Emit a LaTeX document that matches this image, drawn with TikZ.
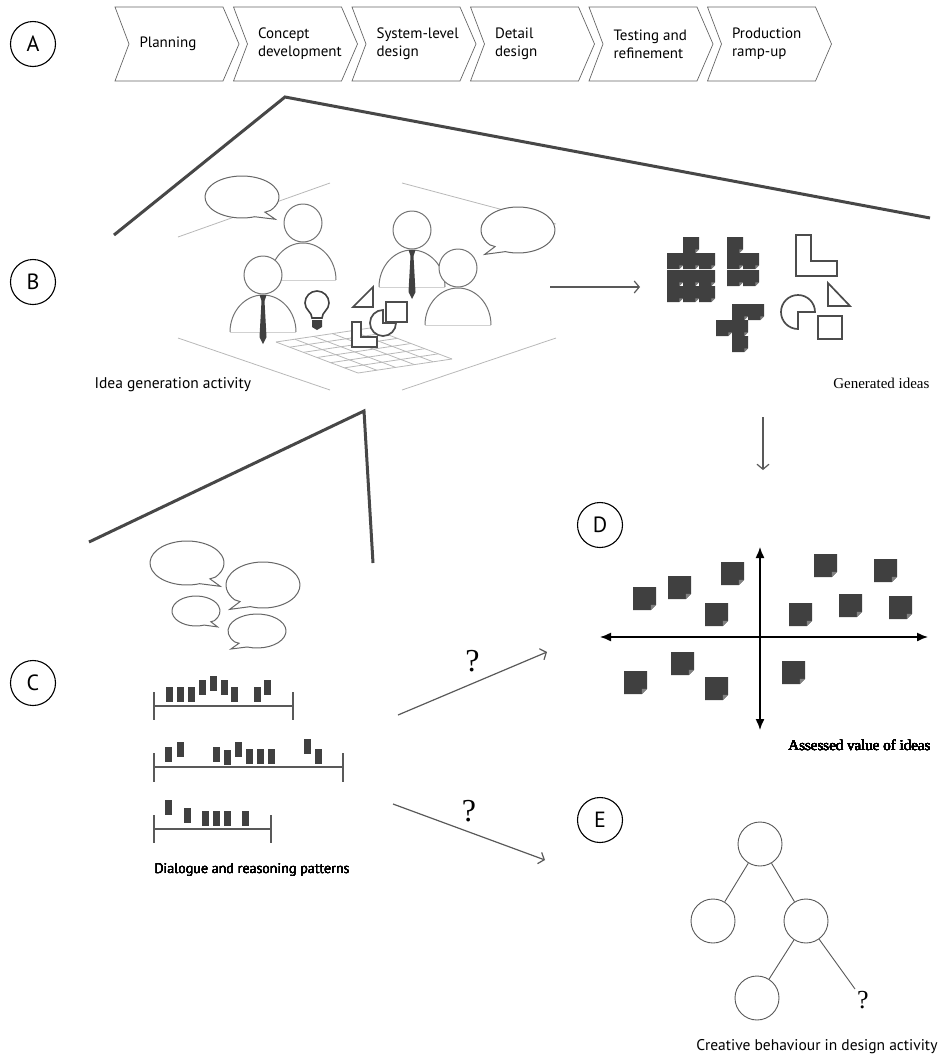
\documentclass[tikz,border=0pt]{standalone}
\usepackage{fontspec}
\setsansfont{PT Sans}
\newfontfamily\garafont{Liberation Serif}
\usetikzlibrary{arrows.meta}

\definecolor{ink}{gray}{0.25}

\tikzset{
  tag/.style={circle, draw, line width=1.1pt, minimum size=45pt, inner sep=0pt,
    font=\sffamily\fontsize{22}{22}\selectfont},
  chev/.style={draw=black!60, line width=.7pt},
  stagetxt/.style={anchor=west, align=left, font=\sffamily\fontsize{15}{18}\selectfont},
  brace/.style={draw=black!72, line width=3pt},
  floor/.style={draw=black!28, line width=.8pt},
  fig/.style={draw=black!55, line width=1pt, fill=white},
  talk/.style={draw=black!60, line width=1pt, fill=white},
  outline/.style={draw=black!70, line width=1.7pt, fill=white, line join=miter},
  flow/.style={->, draw=black!65, line width=1.2pt},
  axis/.style={{Latex[length=11pt,width=9pt]}-{Latex[length=11pt,width=9pt]}, line width=1.4pt},
  sans/.style={font=\sffamily\fontsize{15.5}{17}\selectfont},
  serif/.style={font=\garafont\fontsize{15}{17}\selectfont},
  qmark/.style={font=\garafont\fontsize{32}{32}\selectfont, inner sep=1pt},
  leaf/.style={circle, draw=black!65, line width=.9pt, minimum size=44pt, inner sep=0pt},
  timeline/.style={draw=black!65, line width=1.3pt}
}

% head and shoulders of one member of the team
\newcommand\person[2]{%
  \filldraw[fig] (#1-33,#2+57) arc[start angle=180,end angle=360,x radius=33,y radius=37];
  \draw[black!18] (#1-33,#2+57) -- (#1+33,#2+57);
  \filldraw[fig] (#1,#2) circle[radius=19];}
\newcommand\necktie[2]{%
  \fill[ink] (#1-3.5,#2) -- (#1+3.5,#2) -- (#1+1.5,#2+6) -- (#1+3.5,#2+42) -- (#1,#2+49)
    -- (#1-3.5,#2+42) -- (#1-1.5,#2+6) -- cycle;}
% speech bubble: centre, radii, side of the tail (1 right, -1 left)
\newcommand\bubble[5]{%
  \filldraw[talk] ({#1+#3*cos(90-(#5)*20)},{#2+#4*sin(90-(#5)*20)})
    arc[start angle={90-(#5)*20}, end angle={90+(#5)*310}, x radius=#3, y radius=#4]
    -- ({#1+(#5)*0.62*#3},{#2+0.72*#4}) -- ({#1+(#5)*0.9*#3},{#2+1.06*#4}) -- cycle;}
% sticky note with a folded corner
\newcommand\idea[3]{%
  \fill[ink] (#1,#2) -- ++(#3,0) -- ++(0,#3*0.78) -- ++(-#3*0.22,#3*0.22) -- ++(-#3*0.78,0) -- cycle;
  \fill[black!50] (#1+#3,#2+#3*0.78) -- ++(-#3*0.22,#3*0.22) -- ++(0,-#3*0.22) -- cycle;}
% one utterance on a timeline
\newcommand\utt[2]{\fill[ink] (#1-3.5,#2) rectangle (#1+3.5,#2+15);}

\begin{document}
\begin{tikzpicture}[x=1pt, y=-1pt, >={Straight Barb[length=5pt,width=12pt]}]
\useasboundingbox (0,0) rectangle (943,1058);

% A: product development stages
\node[tag] (A) at (33,44) {A};
\foreach \t [count=\i from 0] in {Planning,Concept\\development,System-level\\design,Detail\\design,Testing and\\refinement,Production\\ramp-up}{
  \draw[chev] ({115+118.5*\i},7) -- ++(108,0) -- ++(16,37) -- ++(-16,37) -- ++(-108,0) -- ++(14,-37) -- cycle;
  \node[stagetxt] (s\i) at ({136+118.5*\i},44) {\t};
}
\draw[brace] (114,235) -- (285,97) -- (930,218);

% B: the idea generation session
\node[tag] (B) at (33,282) {B};
\draw[floor] (178,237) -- (330,183);
\draw[floor] (402,183) -- (556,224);
\draw[floor] (178,338) -- (330,390);
\draw[floor] (402,390) -- (556,338);
\bubble{242}{197}{37}{21}{1}
\bubble{518}{230}{37}{23}{-1}
\person{303}{223}
\person{412}{230}
\necktie{412}{250}
\person{263}{275}
\necktie{263}{295}
\person{458}{268}
% table top
\foreach \i in {0,...,5} \draw[floor] ({276+\i*18.8},{342-\i*2.8}) -- ++(82,31);
\foreach \j in {0,...,6} \draw[floor] ({276+\j*82/6},{342+\j*31/6}) -- ++(94,-14);
% light bulb
\draw[draw=black!75, line width=1.6pt, fill=white] (312,318) .. controls (312,312) and (305,310) .. (305,303)
  arc[start angle=180, end angle=360, radius=12] .. controls (329,310) and (322,312) .. (322,318) -- cycle;
\fill[ink] (312,320) -- (322,320) -- (322,327) -- (317,330) -- (312,327) -- cycle;
% shapes on the table
\filldraw[outline] (373,287) -- (373,307) -- (353,307) -- cycle;
\filldraw[outline] (383,323) -- (396,323) arc[start angle=0, end angle=270, radius=13] -- cycle;
\filldraw[outline] (386,302) rectangle (407,322);
\filldraw[outline] (352,322) -- (361,322) -- (361,337) -- (377,337) -- (377,347) -- (352,347) -- cycle;
\node[sans, anchor=west] (act) at (91,385) {Idea generation activity};

\coordinate (session) at (550,287);
\coordinate (pile) at (640,287);
\draw[flow] (session) -- (pile);

% generated ideas
\foreach \x/\y in {683/237, 667/253,683/253,699/253, 667/270,683/270,699/270, 667/286,683/286,699/286,
  727/237, 727/253,743/253, 727/270,743/270, 732/304,748/304, 716/320,732/320, 732/336}
  \idea{\x}{\y}{16}
\filldraw[outline] (796,235) -- (811,235) -- (811,261) -- (837,261) -- (837,276) -- (796,276) -- cycle;
\filldraw[outline] (828,283) -- (828,306) -- (850,306) -- cycle;
\filldraw[outline] (798,312) -- (798,329) arc[start angle=90, end angle=360, radius=17] -- cycle;
\filldraw[outline] (818,316) rectangle (842,339);
\node[serif, anchor=east] (gen) at (933,383) {Generated ideas};

\coordinate (assess) at (763,417);
\coordinate (plot) at (763,470);
\draw[flow] (assess) -- (plot);

% D: assessed value
\node[tag] (D) at (600,525) {D};
\coordinate (xl) at (600,637);
\coordinate (xr) at (928,637);
\coordinate (yt) at (760,547);
\coordinate (yb) at (760,730);
\draw[axis] (xl) -- (xr);
\draw[axis] (yt) -- (yb);
\foreach \x/\y in {633/587, 668/576, 721/562, 705/603, 814/554, 874/559, 789/603, 839/594, 889/596,
  624/671, 671/652, 705/677, 782/661}
  \idea{\x}{\y}{23}
\node[serif, anchor=east] (val) at (934,745) {Assessed value of ideas};

% C: dialogue
\node[tag] (C) at (33,683) {C};
\draw[brace] (89,542) -- (364,411) -- (373,563);
\bubble{187}{563}{37}{22}{1}
\bubble{263}{585}{37}{23}{-1}
\bubble{196}{611}{24}{15}{1}
\bubble{257}{631}{29}{17}{-1}

\draw[timeline] (154,692) -- (154,720) (154,706) -- (293,706) (293,692) -- (293,720);
\foreach \x/\y in {169/687, 180/687, 191/687, 202/680, 213/676, 224/680, 234/687, 257/687, 267/680}
  \utt{\x}{\y}
\draw[timeline] (154,753) -- (154,782) (154,767) -- (343,767) (343,753) -- (343,782);
\foreach \x/\y in {168/747, 180/742, 216/747, 227/750, 238/742, 249/749, 260/749, 271/749, 307/739, 318/749}
  \utt{\x}{\y}
\draw[timeline] (154,815) -- (154,843) (154,829) -- (271,829) (271,815) -- (271,843);
\foreach \x/\y in {168/800, 187/808, 205/811, 216/811, 227/811, 245/811}
  \utt{\x}{\y}
\node[sans, font=\sffamily\fontsize{14}{16}\selectfont, anchor=west] (dlg) at (151,870) {Dialogue and reasoning patterns};

\coordinate (c1) at (398,715);
\coordinate (d1) at (547,652);
\draw[flow] (c1) -- node[qmark, above=10pt] {?} (d1);
\coordinate (c2) at (393,804);
\coordinate (e1) at (545,860);
\draw[flow] (c2) -- node[qmark, above=8pt] {?} (e1);

% E: creative behaviour
\node[tag] (E) at (600,820) {E};
\node[leaf] (root) at (760,844) {};
\node[leaf] (left) at (713,921) {};
\node[leaf] (right) at (806,921) {};
\node[leaf] (low) at (757,998) {};
\node[font=\garafont\fontsize{26}{26}\selectfont, inner sep=2pt] (open) at (863,1000) {?};
\draw[black!65, line width=.9pt] (root) -- (left) (root) -- (right) (right) -- (low);
\draw[black!65, line width=.9pt] (right) -- (open.north west);
\node[sans, anchor=east] (beh) at (941,1047) {Creative behaviour in design activity};
\end{tikzpicture}
\end{document}
